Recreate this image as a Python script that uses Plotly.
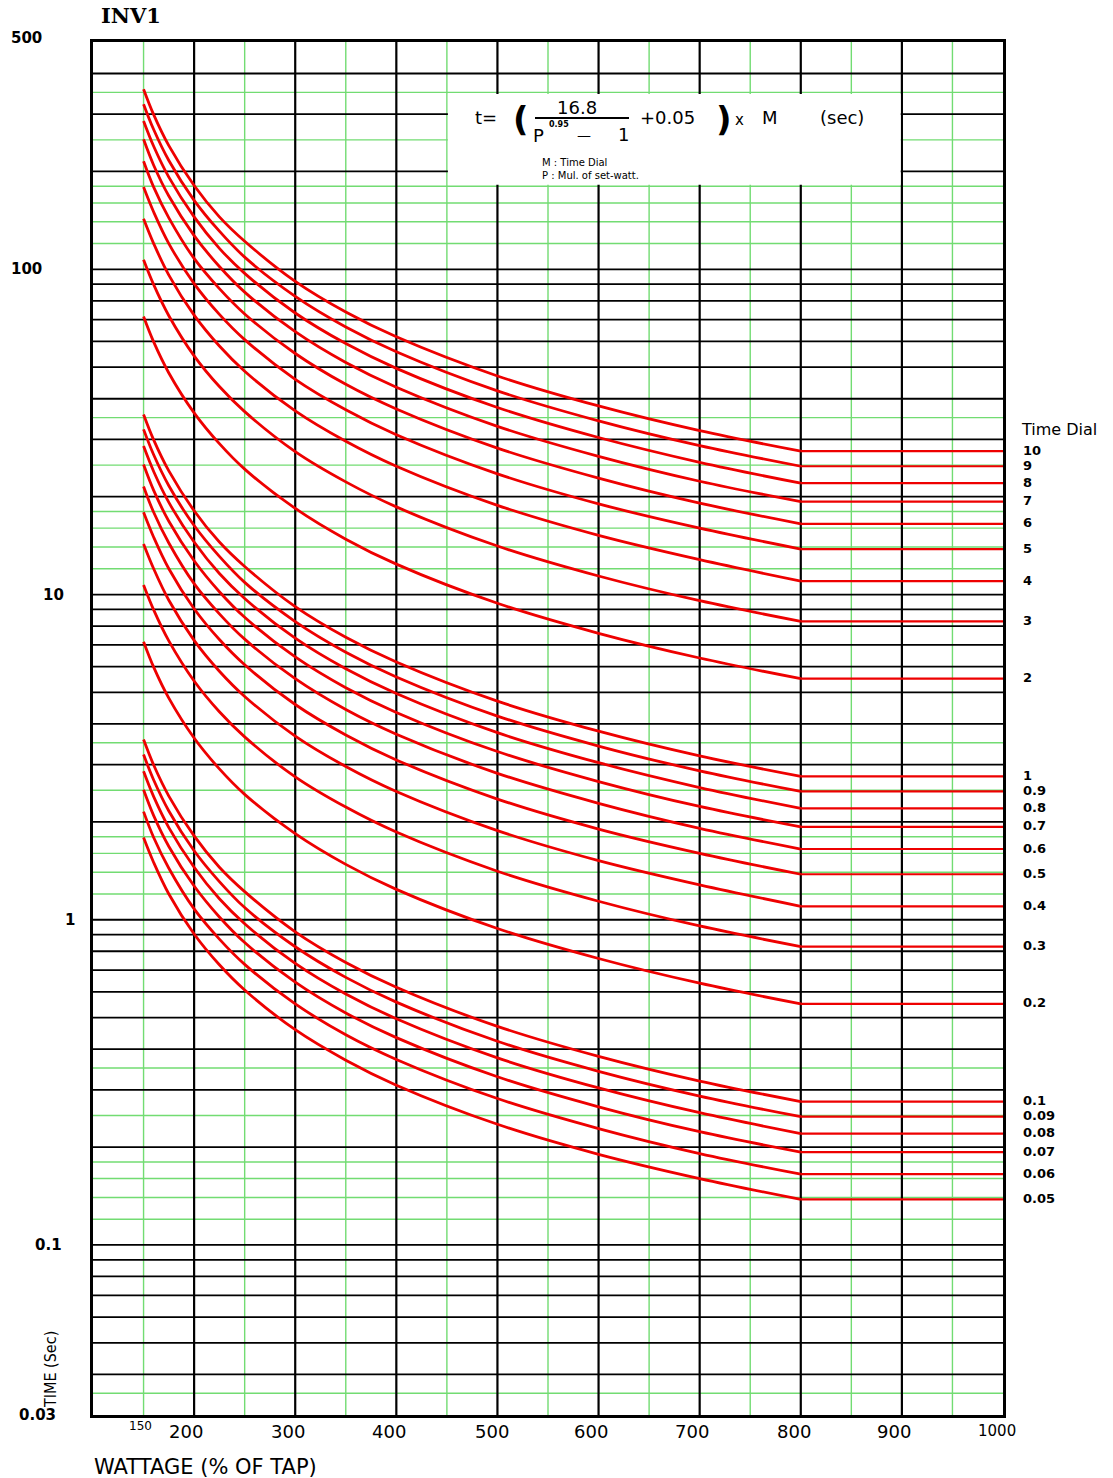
import math
import plotly.graph_objects as go

# ---------------- data ----------------
X_PTS = [150, 160, 175, 200, 225, 250, 300, 350, 400, 500, 600, 700, 800]
X_END = 1000

DIALS = ["10", "9", "8", "7", "6", "5", "4", "3", "2",
         "1", "0.9", "0.8", "0.7", "0.6", "0.5", "0.4", "0.3", "0.2",
         "0.1", "0.09", "0.08", "0.07", "0.06", "0.05"]

t_10 = [358, 299, 240, 181, 145, 122, 91.8, 73.9, 62.0, 47.0, 38.0, 31.9, 27.6]
t_9 = [322, 269, 216, 163, 131, 109, 82.6, 66.5, 55.8, 42.3, 34.2, 28.7, 24.8]
t_8 = [286, 239, 192, 145, 116, 97.2, 73.4, 59.1, 49.6, 37.6, 30.4, 25.5, 22.0]
t_7 = [251, 209, 168, 127, 102, 85.1, 64.3, 51.7, 43.4, 32.9, 26.6, 22.3, 19.3]
t_6 = [215, 179, 144, 108, 87.2, 72.9, 55.1, 44.3, 37.2, 28.2, 22.8, 19.1, 16.5]
t_5 = [179, 150, 120, 90.4, 72.7, 60.8, 45.9, 37.0, 31.0, 23.5, 19.0, 16.0, 13.8]
t_4 = [143, 120, 96.0, 72.3, 58.1, 48.6, 36.7, 29.6, 24.8, 18.8, 15.2, 12.8, 11.0]
t_3 = [107, 89.7, 72.0, 54.2, 43.6, 36.5, 27.5, 22.2, 18.6, 14.1, 11.4, 9.57, 8.27]
t_2 = [71.6, 59.8, 48.0, 36.2, 29.1, 24.3, 18.4, 14.8, 12.4, 9.40, 7.60, 6.38, 5.51]
t_1 = [35.8, 29.9, 24.0, 18.1, 14.5, 12.2, 9.18, 7.39, 6.20, 4.70, 3.80, 3.19, 2.76]
t_09 = [32.2, 26.9, 21.6, 16.3, 13.1, 10.9, 8.26, 6.65, 5.58, 4.23, 3.42, 2.87, 2.48]
t_08 = [28.6, 23.9, 19.2, 14.5, 11.6, 9.72, 7.34, 5.91, 4.96, 3.76, 3.04, 2.55, 2.20]
t_07 = [25.1, 20.9, 16.8, 12.7, 10.2, 8.51, 6.43, 5.17, 4.34, 3.29, 2.66, 2.23, 1.93]
t_06 = [21.5, 17.9, 14.4, 10.8, 8.72, 7.29, 5.51, 4.43, 3.72, 2.82, 2.28, 1.91, 1.65]
t_05 = [17.9, 15.0, 12.0, 9.04, 7.27, 6.08, 4.59, 3.70, 3.10, 2.35, 1.90, 1.60, 1.38]
t_04 = [14.3, 12.0, 9.60, 7.23, 5.81, 4.86, 3.67, 2.96, 2.48, 1.88, 1.52, 1.28, 1.10]
t_03 = [10.7, 8.97, 7.20, 5.42, 4.36, 3.65, 2.75, 2.22, 1.86, 1.41, 1.14, 0.957, 0.827]
t_02 = [7.16, 5.98, 4.80, 3.62, 2.91, 2.43, 1.84, 1.48, 1.24, 0.940, 0.760, 0.638, 0.551]
t_01 = [3.58, 2.99, 2.40, 1.81, 1.45, 1.22, 0.918, 0.739, 0.620, 0.470, 0.380, 0.319, 0.276]
t_009 = [3.22, 2.69, 2.16, 1.63, 1.31, 1.09, 0.826, 0.665, 0.558, 0.423, 0.342, 0.287, 0.248]
t_008 = [2.86, 2.39, 1.92, 1.45, 1.16, 0.972, 0.734, 0.591, 0.496, 0.376, 0.304, 0.255, 0.220]
t_007 = [2.51, 2.09, 1.68, 1.27, 1.02, 0.851, 0.643, 0.517, 0.434, 0.329, 0.266, 0.223, 0.193]
t_006 = [2.15, 1.79, 1.44, 1.08, 0.872, 0.729, 0.551, 0.443, 0.372, 0.282, 0.228, 0.191, 0.165]
t_005 = [1.79, 1.50, 1.20, 0.904, 0.727, 0.608, 0.459, 0.370, 0.310, 0.235, 0.190, 0.160, 0.138]

CURVES = [t_10, t_9, t_8, t_7, t_6, t_5, t_4, t_3, t_2,
          t_1, t_09, t_08, t_07, t_06, t_05, t_04, t_03, t_02,
          t_01, t_009, t_008, t_007, t_006, t_005]

# grid / tick values
BLACK_H = [0.04, 0.05, 0.06, 0.07, 0.08, 0.09, 0.1, 0.2, 0.3, 0.4, 0.5, 0.6, 0.7, 0.8, 0.9,
           1, 2, 3, 4, 5, 6, 7, 8, 9, 10, 20, 30, 40, 50, 60, 70, 80, 90, 100, 200, 300, 400]
GREEN_H = [0.035, 0.12, 0.14, 0.16, 0.18, 0.25, 0.35, 1.2, 1.4, 1.6, 1.8, 2.5, 3.5,
           12, 14, 16, 18, 25, 35, 120, 140, 160, 180, 250, 350]
BLACK_V = [200, 300, 400, 500, 600, 700, 800, 900]
GREEN_V = [150, 250, 350, 450, 550, 650, 750, 850, 950]

Y_MIN, Y_MAX = 0.03, 500
X_MIN, X_MAX = 100, 1000

Y_TICK_LABELS = ["500", "100", "10", "1", "0.1", "0.03"]
X_TICK_LABELS = ["200", "300", "400", "500", "600", "700", "800", "900", "1000"]

# ---------------- layout geometry (pixels) ----------------
W, H = 1113, 1478
L, R, T, B = 93, 110, 42, 63
PW, PH = W - L - R, H - T - B


def px_x(px):
    return (px - L) / PW


def px_y(py):
    return (H - B - py) / PH


LOG_MIN, LOG_MAX = math.log10(Y_MIN), math.log10(Y_MAX)


def yv_paper(v):
    return (math.log10(v) - LOG_MIN) / (LOG_MAX - LOG_MIN)


fig = go.Figure()

BLACK = "#000000"
GREEN = "#72dc72"
RED = "#ee0000"


def h_lines(vals):
    xs, ys = [], []
    for v in vals:
        xs += [X_MIN, X_MAX, None]
        ys += [v, v, None]
    return xs, ys


def v_lines(vals):
    xs, ys = [], []
    for v in vals:
        xs += [v, v, None]
        ys += [Y_MIN, Y_MAX, None]
    return xs, ys


for (xs, ys), col, wd in [
    (h_lines(GREEN_H), GREEN, 1.4),
    (v_lines(GREEN_V), GREEN, 1.4),
    (h_lines(BLACK_H), BLACK, 1.8),
    (v_lines(BLACK_V), BLACK, 2.2),
]:
    fig.add_trace(go.Scatter(x=xs, y=ys, mode="lines", line=dict(color=col, width=wd),
                             hoverinfo="skip", showlegend=False))

for name, vals in zip(DIALS, CURVES):
    fig.add_trace(go.Scatter(x=X_PTS, y=vals, mode="lines", line=dict(color=RED, width=2.8, shape="spline"),
                             name=name, showlegend=False))
    fig.add_trace(go.Scatter(x=[X_PTS[-1], X_END], y=[vals[-1], vals[-1]], mode="lines",
                             line=dict(color=RED, width=2.2), hoverinfo="skip", showlegend=False))

annotations = []
shapes = []

# formula box
shapes.append(dict(type="rect", xref="x", yref="paper", x0=451, x1=898.8,
                   y0=yv_paper(182), y1=yv_paper(346), fillcolor="white",
                   line=dict(width=0), layer="above"))
# fraction bar
shapes.append(dict(type="line", xref="paper", yref="paper", x0=px_x(535), x1=px_x(629),
                   y0=px_y(118), y1=px_y(118), line=dict(color="black", width=2), layer="above"))

SANS = "DejaVu Sans"


def txt(text, px, py, size, family=SANS, weight="normal", xanchor="center", color="black", **kw):
    d = dict(text=text, xref="paper", yref="paper", x=px_x(px), y=px_y(py), showarrow=False,
             xanchor=xanchor, yanchor="middle", font=dict(family=family, size=size, color=color, weight=weight))
    d.update(kw)
    annotations.append(d)


# formula
txt("t=", 486, 118, 18)
txt("(", 521, 119, 34, weight="bold")
txt("16.8", 577, 107, 18)
txt("P", 538, 135, 18)
txt("0.95", 559, 125, 8, weight="bold")
txt("\u2014", 584, 135, 14)
txt("1", 623, 134, 18)
txt("+0.05", 667, 118, 18)
txt(")", 724, 119, 34, weight="bold")
txt("x", 739, 120, 15)
txt("M", 770, 118, 18)
txt("(sec)", 842, 118, 18)
txt("M : Time Dial", 540, 162, 10, xanchor="left")
txt("P : Mul. of set-watt.", 540, 175, 10, xanchor="left")

# title
txt("INV1", 131, 16, 21, family="DejaVu Serif", weight="bold")

# y tick labels
for lab, (cx, cy) in zip(Y_TICK_LABELS, [(26, 38), (26, 269), (53, 595), (70, 920), (48, 1245), (37, 1415)]):
    txt(lab, cx, cy, 15, weight="bold")

# x tick labels
for lab, cx in zip(X_TICK_LABELS, [186, 288, 389, 492, 591, 692, 794, 894, 997]):
    txt(lab, cx, 1431, 15 if lab == "1000" else 18)
txt("150", 140, 1426, 12)

# axis titles
txt("WATTAGE (% OF TAP)", 205, 1467, 21)
txt("TIME (Sec)", 50, 1370, 16, family="Liberation Sans Narrow, DejaVu Sans Condensed", textangle=-90)

# right side dial labels
txt("Time Dial", 1059, 429, 16)
for name, vals in zip(DIALS, CURVES):
    annotations.append(dict(text=name, xref="paper", yref="y", x=px_x(1021), y=math.log10(vals[-1]),
                            yshift=1, showarrow=False, xanchor="left", yanchor="middle",
                            font=dict(family=SANS, size=13, color="black", weight="bold")))

fig.update_layout(
    width=W, height=H,
    margin=dict(l=L, r=R, t=T, b=B, pad=0),
    paper_bgcolor="white", plot_bgcolor="white",
    showlegend=False,
    xaxis=dict(range=[X_MIN, X_MAX], showgrid=False, zeroline=False, showticklabels=False,
               ticks="", showline=True, mirror=True, linecolor="black", linewidth=3),
    yaxis=dict(type="log", range=[LOG_MIN, LOG_MAX], showgrid=False, zeroline=False,
               showticklabels=False, ticks="", showline=True, mirror=True, linecolor="black", linewidth=3),
    annotations=annotations,
    shapes=shapes,
)

fig.write_html("out.html", config={"displayModeBar": False},
               post_script="document.body.style.margin='0px';document.body.style.overflow='hidden';")
